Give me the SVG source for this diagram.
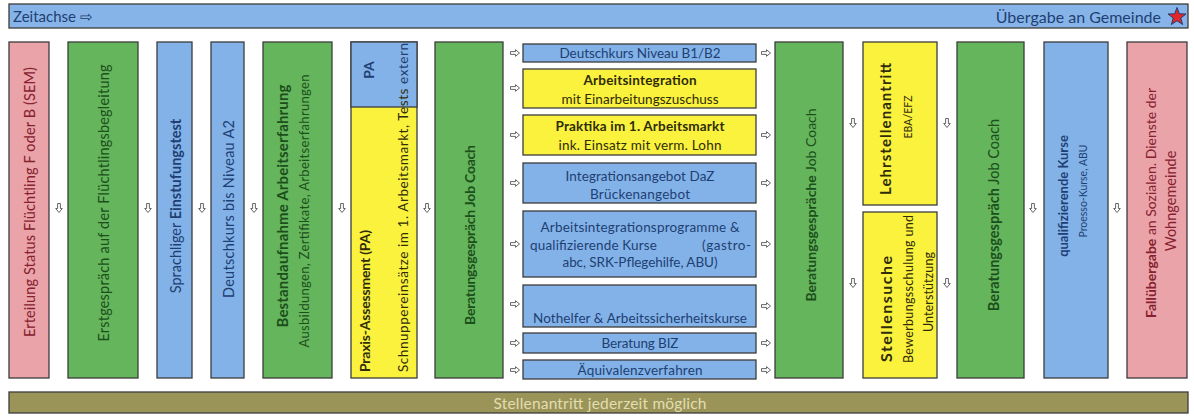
<svg xmlns="http://www.w3.org/2000/svg" width="1194" height="416" viewBox="0 0 1194 416">
  <style>
    text { font-family: Lato, "Liberation Sans", sans-serif; }
    .box { stroke: #3c3c3c; stroke-width: 1.3; }
    .blue { fill: #82B2E8; }
    .green { fill: #64B55B; }
    .pink { fill: #E9A3A9; }
    .yellow { fill: #FAF23C; }
    .olive { fill: #9A9458; }
    .tb { fill: #1F3F73; }
    .tg { fill: #1C4F1C; }
    .tp { fill: #86202E; }
    .ty { fill: #2F2C0A; }
    .b { font-weight: bold; }
    .v { text-anchor: middle; dominant-baseline: central; }
    .s { text-anchor: start; dominant-baseline: central; }
    .arrow { fill: #ffffff; stroke: #555555; stroke-width: 0.9; }
  </style>
  <defs>
    <path id="arR" class="arrow" d="M-4.5,-1.4 H0.5 V-3.3 L4.5,0 L0.5,3.3 V1.4 H-4.5 Z"/>
    <path id="arD" class="arrow" d="M-1.4,-4.5 V0.5 H-3.3 L0,4.5 L3.3,0.5 H1.4 V-4.5 Z"/>
  </defs>
  <rect width="1194" height="416" fill="#ffffff"/>

  <!-- timeline header -->
  <g id="timeline">
    <rect class="box" x="9" y="4" width="1179" height="24" fill="#86B4E8"/>
    <text class="s tb" x="13" y="16" font-size="15">Zeitachse ⇨</text>
    <text class="tb" x="1161" y="16" font-size="16" text-anchor="end" dominant-baseline="central">Übergabe an Gemeinde</text>
    <polygon points="1177,7.5 1179.3,13.8 1186,14 1180.8,18.1 1182.6,24.5 1177,20.8 1171.4,24.5 1173.2,18.1 1168,14 1174.7,13.8" fill="#E3262B" stroke="#1F3F73" stroke-width="1"/>
  </g>

  <!-- columns, text reads bottom to top -->
  <g id="status">
    <rect class="box pink" x="9" y="42" width="40" height="336"/>
    <text class="v tp" transform="translate(29,202) rotate(-90)" font-size="14.5" textLength="270">Erteilung Status Flüchtling F oder B (SEM)</text>
  </g>
  <g id="erstgespraech">
    <rect class="box green" x="68" y="42" width="70" height="336"/>
    <text class="v tg" transform="translate(103,203) rotate(-90)" font-size="14.5" textLength="277">Erstgespräch auf der Flüchtlingsbegleitung</text>
  </g>
  <g id="einstufungstest">
    <rect class="box blue" x="157" y="42" width="35" height="336"/>
    <text class="v tb" transform="translate(175,206) rotate(-90)" font-size="14.5">Sprachliger <tspan class="b">Einstufungstest</tspan></text>
  </g>
  <g id="deutschkurs-a2">
    <rect class="box blue" x="211" y="42" width="33" height="336"/>
    <text class="v tb" transform="translate(228,209) rotate(-90)" font-size="14.5" textLength="178">Deutschkurs bis Niveau A2</text>
  </g>
  <g id="bestandaufnahme">
    <rect class="box green" x="263" y="42" width="69" height="336"/>
    <text class="v tg b" transform="translate(282,206) rotate(-90)" font-size="15" textLength="243">Bestandaufnahme Arbeitserfahrung</text>
    <text class="v tg" transform="translate(304,211) rotate(-90)" font-size="13" textLength="273">Ausbildungen, Zertifikate, Arbeitserfahrungen</text>
  </g>
  <g id="praxis-assessment">
    <rect class="box yellow" x="351" y="42" width="66" height="336"/>
    <rect class="box blue" x="351" y="42" width="66" height="65"/>
    <text class="v tb b" transform="translate(368,70) rotate(-90)" font-size="14">PA</text>
    <text class="s ty b" transform="translate(364,372) rotate(-90)" font-size="14" textLength="142">Praxis-Assessment (PA)</text>
    <text class="s ty" transform="translate(403,372) rotate(-90)" font-size="13.5" textLength="329">Schnuppereinsätze im 1. Arbeitsmarkt, Tests <tspan class="tb">extern</tspan></text>
  </g>
  <g id="beratung-1">
    <rect class="box green" x="435" y="42" width="68" height="336"/>
    <text class="v tg b" transform="translate(469,235) rotate(-90)" font-size="14" textLength="180">Beratungsgespräch Job Coach</text>
  </g>

  <!-- parallel offers -->
  <g id="deutschkurs-b1b2">
    <rect class="box blue" x="523" y="44" width="233" height="18"/>
    <text class="v tb" x="640" y="53" font-size="13.5" textLength="161">Deutschkurs Niveau B1/B2</text>
  </g>
  <g id="arbeitsintegration">
    <rect class="box yellow" x="523" y="69" width="233" height="39"/>
    <text class="v ty b" x="640" y="80" font-size="13.5" textLength="113">Arbeitsintegration</text>
    <text class="v ty" x="640" y="99" font-size="13.5" textLength="157">mit Einarbeitungszuschuss</text>
  </g>
  <g id="praktika">
    <rect class="box yellow" x="523" y="115" width="233" height="40"/>
    <text class="v ty b" x="640" y="126" font-size="13.5" textLength="169">Praktika im 1. Arbeitsmarkt</text>
    <text class="v ty" x="640" y="145" font-size="13.5" textLength="163">ink. Einsatz mit verm. Lohn</text>
  </g>
  <g id="integrationsangebot">
    <rect class="box blue" x="523" y="163" width="233" height="40"/>
    <text class="v tb" x="640" y="176" font-size="13.5" textLength="149">Integrationsangebot DaZ</text>
    <text class="v tb" x="640" y="194" font-size="13.5" textLength="100">Brückenangebot</text>
  </g>
  <g id="integrationsprogramme">
    <rect class="box blue" x="523" y="211" width="233" height="66"/>
    <text class="v tb" x="640" y="227" font-size="13.5" textLength="199">Arbeitsintegrationsprogramme &amp;</text>
    <text class="s tb" x="530" y="245" font-size="13.5" textLength="127">qualifizierende Kurse</text>
    <text class="s tb" x="702" y="245" font-size="13.5" textLength="49">(gastro-</text>
    <text class="v tb" x="640" y="262" font-size="13.5" textLength="155">abc, SRK-Pflegehilfe, ABU)</text>
  </g>
  <g id="nothelfer">
    <rect class="box blue" x="523" y="285" width="233" height="42"/>
    <text class="v tb" x="640" y="318" font-size="13.5" textLength="214">Nothelfer &amp; Arbeitssicherheitskurse</text>
  </g>
  <g id="beratung-biz">
    <rect class="box blue" x="523" y="333" width="233" height="20"/>
    <text class="v tb" x="640" y="343" font-size="13.5" textLength="77">Beratung BIZ</text>
  </g>
  <g id="aequivalenz">
    <rect class="box blue" x="523" y="360" width="233" height="19"/>
    <text class="v tb" x="640" y="370" font-size="13.5" textLength="125">Äquivalenzverfahren</text>
  </g>

  <g id="beratung-2">
    <rect class="box green" x="775" y="42" width="68" height="336"/>
    <text class="v tg" transform="translate(810,205) rotate(-90)" font-size="14"><tspan class="b">Beratungsgespräche</tspan> Job Coach</text>
  </g>
  <g id="lehrstelle">
    <rect class="box yellow" x="863" y="42" width="74" height="163"/>
    <text class="v ty b" transform="translate(885,129) rotate(-90)" font-size="15" textLength="132">Lehrstellenantritt</text>
    <text class="v ty" transform="translate(908,117) rotate(-90)" font-size="10.5">EBA/EFZ</text>
  </g>
  <g id="stellensuche">
    <rect class="box yellow" x="863" y="212" width="74" height="166"/>
    <text class="s ty b" transform="translate(885,362) rotate(-90)" font-size="16" textLength="106">Stellensuche</text>
    <text class="s ty" transform="translate(908,363) rotate(-90)" font-size="12.5" textLength="148">Bewerbungsschulung und</text>
    <text class="v ty" transform="translate(928,292) rotate(-90)" font-size="12.5" textLength="80">Unterstützung</text>
  </g>
  <g id="beratung-3">
    <rect class="box green" x="957" y="42" width="67" height="336"/>
    <text class="v tg" transform="translate(993,215) rotate(-90)" font-size="14.5"><tspan class="b">Beratungsgespräch</tspan> Job Coach</text>
  </g>
  <g id="qualifizierende-kurse">
    <rect class="box blue" x="1044" y="42" width="64" height="336"/>
    <text class="v tb b" transform="translate(1063,196) rotate(-90)" font-size="13">qualifizierende Kurse</text>
    <text class="v tb" transform="translate(1083,191) rotate(-90)" font-size="10.5">Proesso-Kurse, ABU</text>
  </g>
  <g id="falluebergabe">
    <rect class="box pink" x="1127" y="42" width="60" height="336"/>
    <text class="v tp" transform="translate(1150,203) rotate(-90)" font-size="14"><tspan class="b">Fallübergabe</tspan> an Sozialen. Dienste der</text>
    <text class="v tp" transform="translate(1170,201) rotate(-90)" font-size="14.5">Wohngemeinde</text>
  </g>

  <!-- footer -->
  <g id="stellenantritt">
    <rect class="box olive" x="9" y="392" width="1179" height="21"/>
    <text class="v" x="600" y="402.5" font-size="15.5" fill="#E2DEB2" textLength="213">Stellenantritt jederzeit möglich</text>
  </g>

  <!-- connectors -->
  <g id="connectors">
    <use href="#arD" x="59" y="208"/>
    <use href="#arD" x="148" y="208"/>
    <use href="#arD" x="202" y="208"/>
    <use href="#arD" x="254" y="208"/>
    <use href="#arD" x="342" y="208"/>
    <use href="#arD" x="427" y="208"/>
    <use href="#arR" x="515" y="53"/>
    <use href="#arR" x="515" y="88"/>
    <use href="#arR" x="515" y="135"/>
    <use href="#arR" x="515" y="183"/>
    <use href="#arR" x="515" y="244"/>
    <use href="#arR" x="515" y="304"/>
    <use href="#arR" x="515" y="343"/>
    <use href="#arR" x="515" y="370"/>
    <use href="#arR" x="766" y="53"/>
    <use href="#arR" x="766" y="135"/>
    <use href="#arR" x="766" y="183"/>
    <use href="#arR" x="766" y="244"/>
    <use href="#arR" x="766" y="306"/>
    <use href="#arR" x="766" y="343"/>
    <use href="#arR" x="766" y="370"/>
    <use href="#arD" x="853" y="123"/>
    <use href="#arD" x="853" y="283"/>
    <use href="#arD" x="947" y="123"/>
    <use href="#arD" x="947" y="283"/>
    <use href="#arD" x="1033" y="208"/>
    <use href="#arD" x="1117" y="208"/>
  </g>
</svg>
